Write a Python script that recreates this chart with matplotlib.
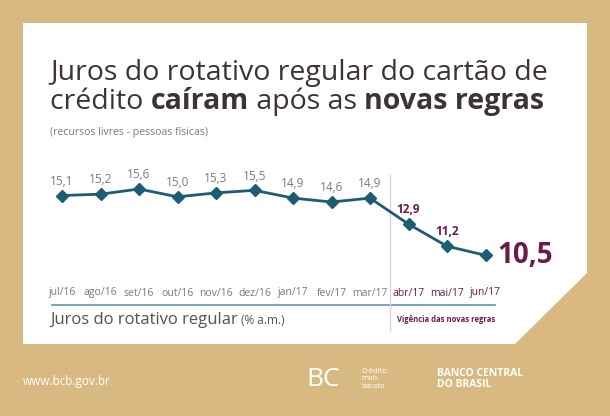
import matplotlib
matplotlib.use("Agg")
import matplotlib.pyplot as plt
from matplotlib.patches import Polygon
from matplotlib.transforms import blended_transform_factory

months = ["jul/16", "ago/16", "set/16", "out/16", "nov/16", "dez/16",
          "jan/17", "fev/17", "mar/17", "abr/17", "mai/17", "jun/17"]
rates = [15.1, 15.2, 15.6, 15.0, 15.3, 15.5, 14.9, 14.6, 14.9, 12.9, 11.2, 10.5]
labels = ["15,1", "15,2", "15,6", "15,0", "15,3", "15,5",
          "14,9", "14,6", "14,9", "12,9", "11,2", "10,5"]
n_new = 3  # last months under the new rules

tan = "#d9b982"
teal = "#1c5d74"
purple = "#6a1b4d"
grey = "#7a7a7a"
dark = "#3d3335"

W, H = 610, 416
fig = plt.figure(figsize=(W / 100, H / 100), dpi=100)
fig.patch.set_facecolor(tan)

def fx(px):
    return px / W

def fy(py):
    return 1 - py / H

# white panel with cut corner
panel = Polygon([(fx(23), fy(23)), (fx(587), fy(23)), (fx(587), fy(273)),
                 (fx(515), fy(344)), (fx(23), fy(344))],
                closed=True, transform=fig.transFigure, facecolor="white",
                edgecolor="none", zorder=-5)
fig.patches.append(panel)

font = "Open Sans"
fig.canvas.draw()
r = fig.canvas.get_renderer()

def after(prev, s, py, **kw):
    bb = prev.get_window_extent(r)
    t = fig.text(bb.x1 / W, fy(py), s, **kw)
    return t

title_kw = dict(fontsize=20.5, color=dark, family=font, va="baseline")
fig.text(fx(50), fy(80), "Juros do rotativo regular do cartão de", **title_kw)
t = fig.text(fx(50), fy(109), "crédito ", **title_kw)
t = after(t, "caíram", 109, weight="bold", **title_kw)
t = after(t, " após as ", 109, **title_kw)
after(t, "novas regras", 109, weight="bold", **title_kw)

fig.text(fx(50), fy(133), "(recursos livres - pessoas físicas)", fontsize=7.6,
         color=grey, family=font, va="center")

# chart axes: x index -> pixel 62 + 38.5*i, value -> 189 + (15.6 - v)*13
ax = fig.add_axes([fx(40), fy(300), fx(480), 130 / H])
ax.set_zorder(2)
ax.set_xlim((40 - 62) / 38.5, (520 - 62) / 38.5)
ax.set_ylim(15.6 - 111 / 13, 15.6 + 19 / 13)
ax.axis("off")

x = list(range(len(rates)))
ax.plot(x, rates, color=teal, lw=2, marker="D", ms=6, zorder=3, clip_on=False)

for i, (v, lab) in enumerate(zip(rates, labels)):
    if i < len(rates) - n_new:
        ax.text(i, v + 0.6, lab, ha="center", va="bottom", fontsize=8.5,
                color=grey, family=font)
    elif i < len(rates) - 1:
        ax.text(i, v + 0.6, lab, ha="center", va="bottom", fontsize=8.5,
                color=purple, family=font, weight="bold")
    else:
        ax.text(i + 0.3, v, lab, ha="left", va="center", fontsize=20,
                color=purple, family=font, weight="bold")

tr = blended_transform_factory(ax.transData, fig.transFigure)
for i, m in enumerate(months):
    c = purple if i >= len(months) - n_new else grey
    ax.text(i, fy(293), m, transform=tr, ha="center", va="center",
            fontsize=7.5, color=c, family=font)

# underline and separator
fig.add_artist(plt.Line2D([fx(52), fx(495)], [fy(305), fy(305)],
                          color="#5b98a6", lw=1.2))
fig.add_artist(plt.Line2D([fx(390), fx(390)], [fy(175), fy(330)],
                          color="#e3d0d8", lw=1))

fig.canvas.draw()
t = fig.text(fx(50), fy(324), "Juros do rotativo regular", fontsize=12, color="#5a4f50",
             family=font, va="baseline")
after(t, " (% a.m.)", 324, fontsize=8.5, color="#5a4f50", family=font, va="baseline")
fig.text(fx(397), fy(320), "Vigência das novas regras", fontsize=5.5, color=purple,
         family=font, va="center", weight="bold")

# footer
fig.text(fx(23), fy(381), "www.bcb.gov.br", fontsize=8.5, color="white",
         family=font, va="center")
fig.text(fx(306), fy(380), "BC", fontsize=19, color="white", family=font, va="center")
fig.text(fx(361), fy(379), "Crédito\nmais\nbarato", fontsize=5.5, color="white",
         family=font, va="center", linespacing=1.1)
fig.text(fx(437), fy(379), "BANCO CENTRAL\nDO BRASIL", fontsize=7.5, color="white",
         family=font, va="center", weight="bold", linespacing=1.0)

fig.savefig("out.png", dpi=100, facecolor=tan)
